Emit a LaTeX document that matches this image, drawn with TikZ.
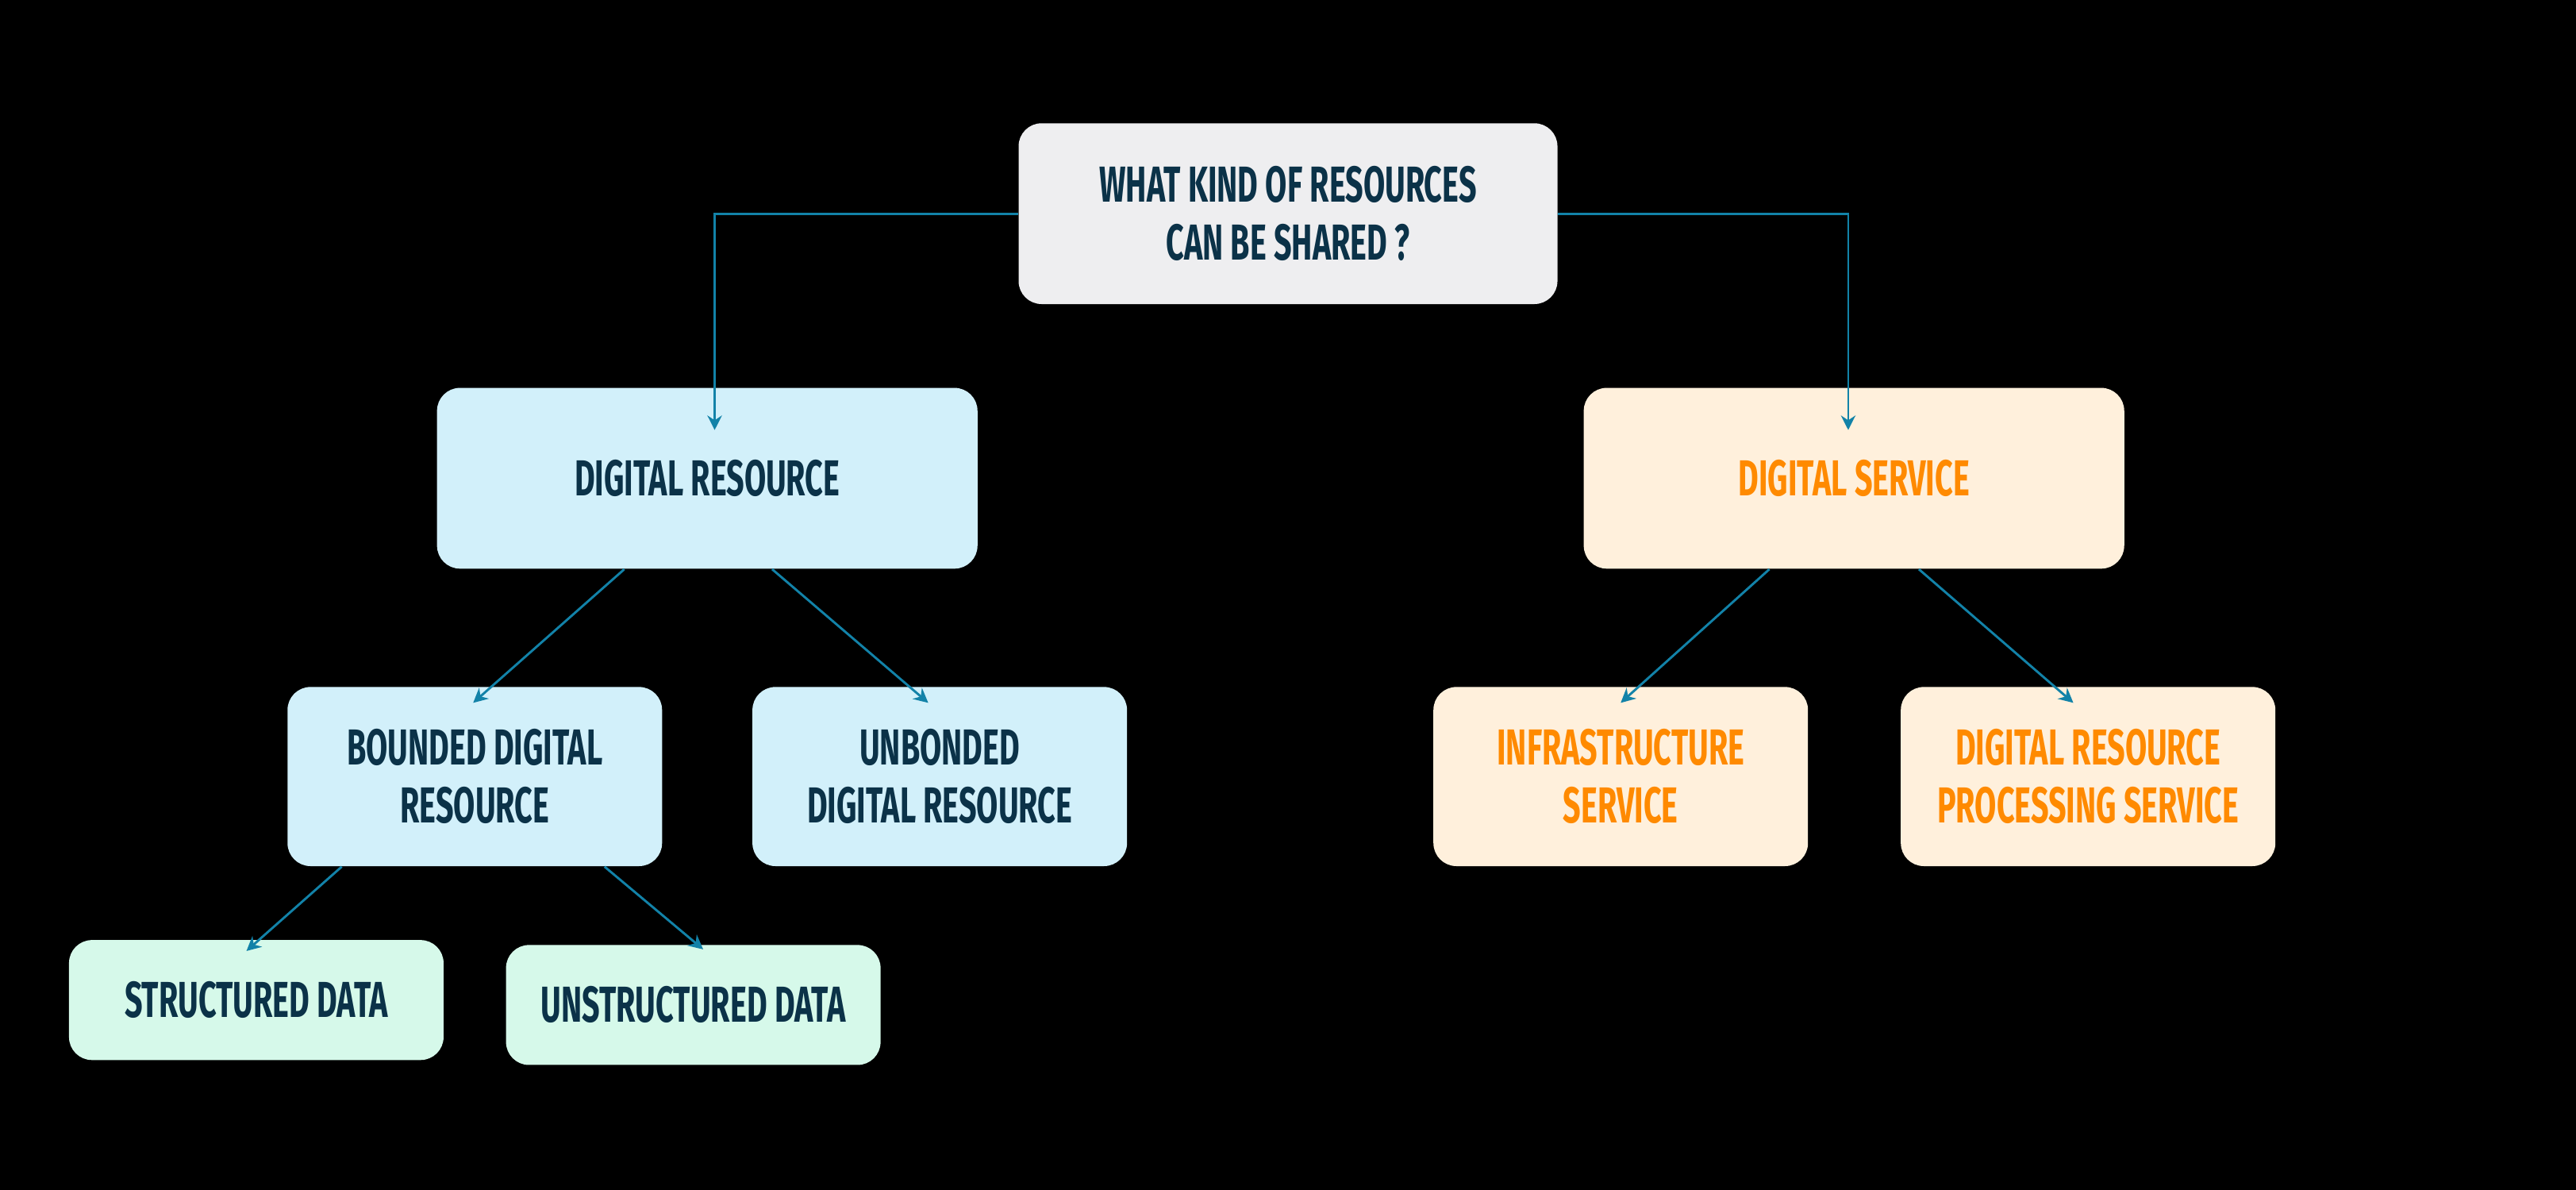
\documentclass[tikz,border=0pt]{standalone}
\usepackage{fontspec}
\usepackage{xcolor}
\usetikzlibrary{arrows.meta}
\setmainfont{Fira Sans}[FakeStretch=0.62]

\definecolor{inkblue}{HTML}{0B3248}
\definecolor{linkblue}{HTML}{1282A8}
\definecolor{rootfill}{HTML}{EEEEF0}
\definecolor{resfill}{HTML}{D2F0FA}
\definecolor{svcfill}{HTML}{FFF0DC}
\definecolor{datafill}{HTML}{D6F9EA}
\definecolor{svcorange}{HTML}{FF8A00}

\begin{document}
\begin{tikzpicture}[
    card/.style={rounded corners=0.28cm, align=center, inner sep=0pt,
      font=\fontsize{17.5}{20}\selectfont\bfseries},
    conn/.style={linkblue, line width=0.8pt, -{Stealth[length=5pt,width=5pt]}}
  ]
  \fill[black] (0,0) rectangle (31.36,-14.48);
  \useasboundingbox (0,0) rectangle (31.36,-14.48);

  \node[card, fill=rootfill, text=inkblue, minimum width=6.56cm, minimum height=2.2cm]
    (root) at (15.68,-2.60) {WHAT KIND OF RESOURCES\\CAN BE SHARED ?};

  \node[card, fill=resfill, text=inkblue, minimum width=6.58cm, minimum height=2.2cm]
    (dres) at (8.61,-5.82) {DIGITAL RESOURCE};
  \node[card, fill=svcfill, text=svcorange, minimum width=6.58cm, minimum height=2.2cm]
    (dsvc) at (22.57,-5.82) {DIGITAL SERVICE};

  \node[card, fill=resfill, text=inkblue, minimum width=4.56cm, minimum height=2.18cm]
    (bounded) at (5.78,-9.45) {BOUNDED DIGITAL\\RESOURCE};
  \node[card, fill=resfill, text=inkblue, minimum width=4.56cm, minimum height=2.18cm]
    (unbonded) at (11.44,-9.45) {UNBONDED\\DIGITAL RESOURCE};
  \node[card, fill=svcfill, text=svcorange, minimum width=4.56cm, minimum height=2.18cm]
    (infra) at (19.73,-9.45) {INFRASTRUCTURE\\SERVICE};
  \node[card, fill=svcfill, text=svcorange, minimum width=4.56cm, minimum height=2.18cm]
    (proc) at (25.42,-9.45) {DIGITAL RESOURCE\\PROCESSING SERVICE};

  \node[card, fill=datafill, text=inkblue, minimum width=4.56cm, minimum height=1.46cm]
    (struct) at (3.12,-12.17) {STRUCTURED DATA};
  \node[card, fill=datafill, text=inkblue, minimum width=4.56cm, minimum height=1.46cm]
    (unstruct) at (8.44,-12.23) {UNSTRUCTURED DATA};

  % connectors end a little inside the cards
  \draw[conn] (root.west) -| ([xshift=0.09cm,yshift=-0.52cm]dres.north);
  \draw[conn] (root.east) -| ([xshift=-0.07cm,yshift=-0.52cm]dsvc.north);
  \draw[conn] ([xshift=-1.01cm]dres.south) -- ([xshift=-0.02cm,yshift=-0.2cm]bounded.north);
  \draw[conn] ([xshift=0.79cm]dres.south) -- ([xshift=-0.14cm,yshift=-0.2cm]unbonded.north);
  \draw[conn] ([xshift=-1.03cm]dsvc.south) -- ([yshift=-0.2cm]infra.north);
  \draw[conn] ([xshift=0.79cm]dsvc.south) -- ([xshift=-0.18cm,yshift=-0.2cm]proc.north);
  \draw[conn] ([xshift=-1.62cm]bounded.south) -- ([xshift=-0.12cm,yshift=-0.14cm]struct.north);
  \draw[conn] ([xshift=1.58cm]bounded.south) -- ([xshift=0.12cm,yshift=-0.06cm]unstruct.north);
\end{tikzpicture}
\end{document}
